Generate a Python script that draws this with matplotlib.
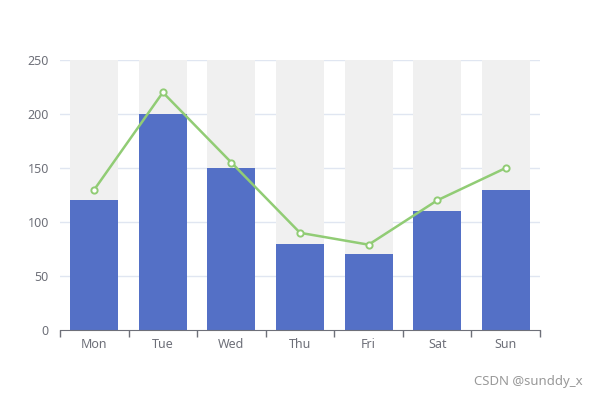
import matplotlib
matplotlib.use("Agg")
import matplotlib.pyplot as plt
import numpy as np

categories = ["Mon", "Tue", "Wed", "Thu", "Fri", "Sat", "Sun"]
bar_values = [120, 200, 150, 80, 70, 110, 130]
line_values = [130, 220, 155, 90, 79, 120, 150]
y_ticks = [0, 50, 100, 150, 200, 250]
y_max = 250

plt.rcParams['font.family'] = ['Noto Sans', 'DejaVu Sans']

fig = plt.figure(figsize=(5.99, 3.99), dpi=100)
ax = fig.add_axes([60/599, 1-330/399, 480/599, 270/399])

x = np.arange(len(categories))
for v in y_ticks[1:]:
    ax.axhline(v, color="#e0e6f1", lw=1, zorder=1)
ax.bar(x, [y_max]*len(categories), width=0.7, color="#f0f0f0", zorder=2)
ax.bar(x, bar_values, width=0.7, color="#5470c6", zorder=3)
ax.plot(x, line_values, color="#91cc75", lw=1.8, marker="o", ms=4.5,
        mfc="white", mec="#91cc75", mew=1.4, zorder=4)

ax.set_xlim(-0.5, len(categories)-0.5)
ax.set_ylim(0, y_max)
ax.set_yticks(y_ticks)

ax.set_xticks(np.arange(-0.5, len(categories)), minor=False)
ax.set_xticklabels([])
ax.set_xticks(x, minor=True)
ax.set_xticklabels(categories, minor=True)
ax.tick_params(axis='x', which='major', length=5, color="#6e7079", width=1, direction='out')
ax.tick_params(axis='x', which='minor', length=0, pad=6, labelsize=9, labelcolor="#6e7079")
ax.tick_params(axis='y', length=0, pad=8, labelsize=9, labelcolor="#6e7079")

for s in ["top", "right", "left"]:
    ax.spines[s].set_visible(False)
ax.spines["bottom"].set_color("#6e7079")
ax.spines["bottom"].set_zorder(5)

fig.text(583/599, 1-382/399, "CSDN @sunddy_x", ha="right", va="center",
         fontsize=9.5, color="#999999")

fig.savefig("out.png", dpi=100)
